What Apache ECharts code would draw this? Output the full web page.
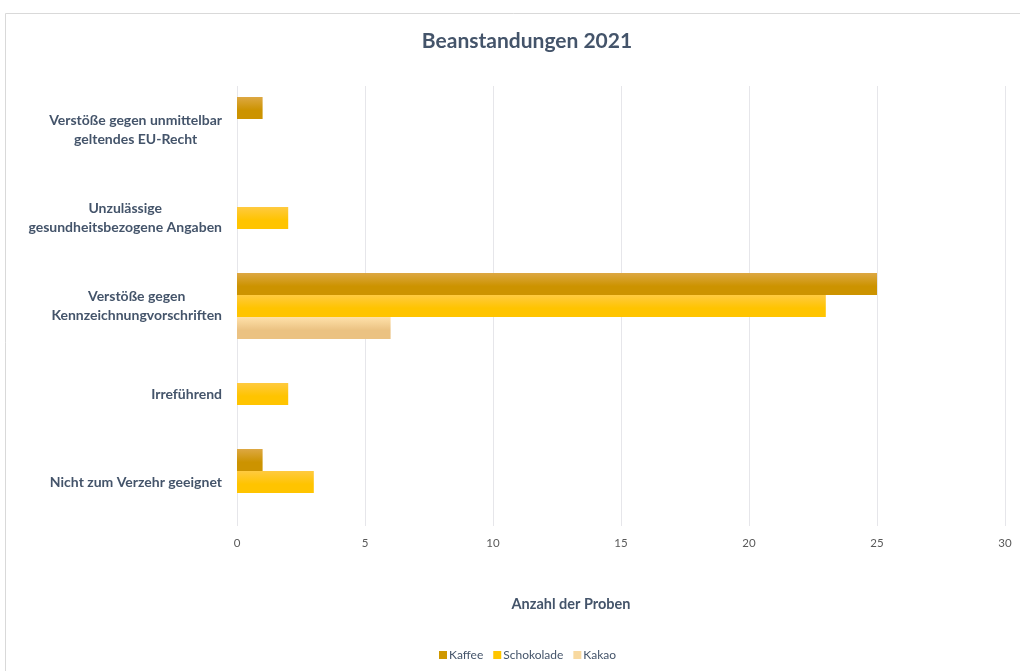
<!DOCTYPE html>
<html>
<head>
<meta charset="utf-8">
<style>
  html, body { margin: 0; padding: 0; background: #fff; }
  #chart { width: 1020px; height: 671px; }
</style>
<script src="https://cdn.jsdelivr.net/npm/echarts@6/dist/echarts.min.js"></script>
</head>
<body>
<div id="chart"></div>
<script>
// Kategorien von oben nach unten
const categories = [
  'Verstöße gegen unmittelbar\ngeltendes EU-Recht',
  'Unzulässige\ngesundheitsbezogene Angaben',
  'Verstöße gegen\nKennzeichnungvorschriften',
  'Irreführend',
  'Nicht zum Verzehr geeignet'
]
const kaffee = [1, 0, 25, 0, 1]
const schokolade = [0, 2, 23, 2, 3]
const kakao = [0, 0, 6, 0, 0]
const xTicks = [0, 5, 10, 15, 20, 25, 30]

const textColor = '#44546A'
const fontFamily = 'Lato, "Open Sans", sans-serif'

function grad(top, bottom) {
  return new echarts.graphic.LinearGradient(0, 0, 0, 1, [
    { offset: 0, color: top },
    { offset: 0.6, color: bottom },
    { offset: 1, color: bottom }
  ])
}

function makeSeries(name, data, top, bottom) {
  return {
    name: name,
    type: 'bar',
    data: data,
    barWidth: 22,
    barGap: '0%',
    itemStyle: { color: grad(top, bottom) },
    emphasis: { disabled: true }
  }
}

const myChart = echarts.init(document.getElementById('chart'), null, { renderer: 'canvas' })

const option = {
  animation: false,
  textStyle: { fontFamily: fontFamily },
  graphic: [{
    type: 'rect',
    silent: true,
    shape: { x: 5.5, y: 13.5, width: 1100, height: 700 },
    style: { fill: 'none', stroke: '#D9D9D9', lineWidth: 1 }
  }],
  title: [{
    text: 'Beanstandungen 2021',
    left: 522,
    top: 26,
    textAlign: 'center',
    textStyle: { color: textColor, fontSize: 21, fontWeight: 'bold', fontFamily: fontFamily }
  }, {
    text: 'Anzahl der Proben',
    left: 566,
    top: 592,
    textAlign: 'center',
    textStyle: { color: textColor, fontSize: 14.5, fontWeight: 'bold', fontFamily: fontFamily }
  }],
  legend: {
    bottom: 5,
    left: 434,
    itemWidth: 8,
    itemHeight: 8,
    itemGap: 10,
    icon: 'rect',
    textStyle: { color: textColor, fontSize: 12, padding: [0, 0, 0, -3] },
    data: [
      { name: 'Kaffee', itemStyle: { color: '#CF9800' } },
      { name: 'Schokolade', itemStyle: { color: '#FFC600' } },
      { name: 'Kakao', itemStyle: { color: '#F8D9A0' } }
    ]
  },
  grid: { left: 237, right: 15, top: 86, bottom: 145, containLabel: false },
  xAxis: {
    type: 'value',
    min: xTicks[0],
    max: xTicks[xTicks.length - 1],
    interval: 5,
    axisLine: { show: false },
    axisTick: { show: false },
    axisLabel: { color: '#595959', fontSize: 11.5, margin: 11 },
    splitLine: { show: true, lineStyle: { color: '#E6E6EA', width: 1 } }
  },
  yAxis: {
    type: 'category',
    inverse: true,
    data: categories,
    axisLine: { show: false },
    axisTick: { show: false },
    axisLabel: {
      margin: 15,
      align: 'right',
      formatter: function (v) {
        return v.split('\n').map(function (l) { return '{c|' + l + '}' }).join('\n')
      },
      rich: {
        c: { align: 'center', color: textColor, fontSize: 14, fontWeight: 'bold', lineHeight: 19, fontFamily: fontFamily }
      }
    }
  },
  series: [
    makeSeries('Kaffee', kaffee, '#DDA843', '#CC9300'),
    makeSeries('Schokolade', schokolade, '#FFCA40', '#FFC400'),
    makeSeries('Kakao', kakao, '#FFE1AA', '#EBC282')
  ]
}

myChart.setOption(option)
window.addEventListener('resize', () => {
  myChart && myChart.resize()
})
</script>
</body>
</html>
